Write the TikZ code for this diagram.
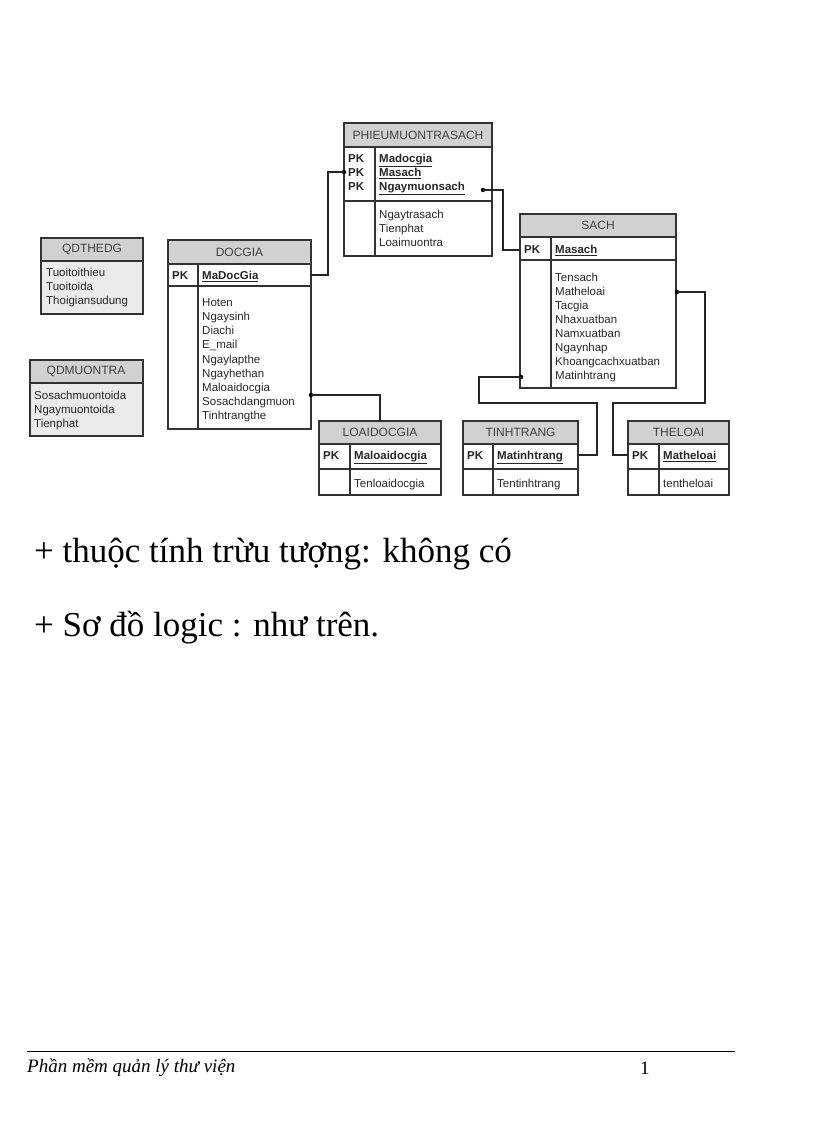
\documentclass[tikz,border=0pt]{standalone}
\usepackage{fontspec}
\setmainfont{Liberation Serif}
\newfontfamily\arialf{Liberation Sans}
\begin{document}
\begin{tikzpicture}[x=1pt,y=-1pt,
  frame/.style={draw=black!80,line width=1.1pt},
  hdr/.style={frame,fill=black!18},
  tt/.style={font=\arialf\fontsize{11.5}{13}\selectfont,anchor=base west,inner sep=0pt,text=black!85,yshift=-4.2pt},
  tb/.style={tt,font=\arialf\bfseries\fontsize{11.5}{13}\selectfont},
  th/.style={font=\arialf\fontsize{12}{13}\selectfont,inner sep=0pt,text=black!75},
  conn/.style={draw=black!85,line width=1.2pt},
  dot/.style={circle,fill=black,inner sep=0pt,minimum size=4.5pt}]
\useasboundingbox (0,0) rectangle (816,1123);
% QDTHEDG
\draw[hdr] (41,238) rectangle (143,261); \node[th] (qdt) at (92,249.5) {QDTHEDG};
\draw[frame,fill=black!8] (41,261) rectangle (143,314);
\node[tt] at (46,272) {Tuoitoithieu}; \node[tt] at (46,286) {Tuoitoida}; \node[tt] at (46,300) {Thoigiansudung};
% QDMUONTRA
\draw[hdr] (30,360) rectangle (143,383); \node[th] (qdm) at (86,371.5) {QDMUONTRA};
\draw[frame,fill=black!8] (30,383) rectangle (143,436);
\node[tt] at (34,395) {Sosachmuontoida}; \node[tt] at (34,409) {Ngaymuontoida}; \node[tt] at (34,423) {Tienphat};
% DOCGIA
\draw[hdr] (168,240) rectangle (311,264); \node[th] at (239.5,252) {DOCGIA};
\draw[frame] (168,264) rectangle (311,429); \draw[frame] (168,286) -- (311,286); \draw[frame] (198,264) -- (198,429);
\node[tb] at (172,275) {PK}; \node[tb] at (202,275) {\underline{MaDocGia}};
\foreach \t [count=\i from 0] in {Hoten,Ngaysinh,Diachi,E\_mail,Ngaylapthe,Ngayhethan,Maloaidocgia,Sosachdangmuon,Tinhtrangthe}
  \node[tt] at (202,302+14.2*\i) {\t};
\coordinate (dgpk) at (311,275); \coordinate (dgml) at (311,395);
% PHIEUMUONTRASACH
\draw[hdr] (344,123) rectangle (492,147); \node[th] at (418,135) {PHIEUMUONTRASACH};
\draw[frame] (344,147) rectangle (492,256); \draw[frame] (344,201) -- (492,201); \draw[frame] (375,147) -- (375,256);
\foreach \t [count=\i from 0] in {Madocgia,Masach,Ngaymuonsach}{
  \node[tb] at (348,158+14*\i) {PK}; \node[tb] at (379,158+14*\i) {\underline{\t}};}
\foreach \t [count=\i from 0] in {Ngaytrasach,Tienphat,Loaimuontra}
  \node[tt] at (379,214+14*\i) {\t};
\node[dot] (pms) at (344,172) {}; \node[dot] (pnm) at (483,190) {};
% SACH
\draw[hdr] (520,214) rectangle (676,237); \node[th] at (598,225.5) {SACH};
\draw[frame] (520,237) rectangle (676,388); \draw[frame] (520,260) -- (676,260); \draw[frame] (551,237) -- (551,388);
\node[tb] at (524,249) {PK}; \node[tb] at (555,249) {\underline{Masach}};
\foreach \t [count=\i from 0] in {Tensach,Matheloai,Tacgia,Nhaxuatban,Namxuatban,Ngaynhap,Khoangcachxuatban,Matinhtrang}
  \node[tt] at (555,277+14.1*\i) {\t};
\coordinate (spk) at (520,250);
\node[dot] (stt) at (521,377) {}; \node[dot] (stl) at (677,292) {};
% LOAIDOCGIA
\draw[hdr] (319,421) rectangle (441,444); \node[th] at (380,432.5) {LOAIDOCGIA};
\draw[frame] (319,444) rectangle (441,495); \draw[frame] (319,469) -- (441,469); \draw[frame] (350,444) -- (350,495);
\node[tb] at (323,455) {PK}; \node[tb] at (354,455) {\underline{Maloaidocgia}}; \node[tt] at (354,483) {Tenloaidocgia};
\coordinate (ldtop) at (380,421);
% TINHTRANG
\draw[hdr] (463,421) rectangle (578,444); \node[th] at (520.5,432.5) {TINHTRANG};
\draw[frame] (463,444) rectangle (578,495); \draw[frame] (463,469) -- (578,469); \draw[frame] (493,444) -- (493,495);
\node[tb] at (467,455) {PK}; \node[tb] at (497,455) {\underline{Matinhtrang}}; \node[tt] at (497,483) {Tentinhtrang};
\coordinate (ttr) at (578,455);
% THELOAI
\draw[hdr] (628,421) rectangle (729,444); \node[th] at (678.5,432.5) {THELOAI};
\draw[frame] (628,444) rectangle (729,495); \draw[frame] (628,469) -- (729,469); \draw[frame] (659,444) -- (659,495);
\node[tb] at (632,455) {PK}; \node[tb] at (663,455) {\underline{Matheloai}}; \node[tt] at (663,483) {tentheloai};
\coordinate (tll) at (628,455);
% connectors
\draw[conn] (dgpk) -- (328,275) -- (328,172) -- (pms.center);
\draw[conn] (pnm.center) -- (503,190) -- (503,250) -- (spk);
\node[dot] (dgd) at (dgml) {};
\draw[conn] (dgd.center) -- (380,395) -- (ldtop);
\draw[conn] (stt.center) -- (479,377) -- (479,403) -- (597,403) -- (597,455) -- (ttr);
\draw[conn] (stl.center) -- (705,292) -- (705,403) -- (613,403) -- (613,455) -- (tll);
% text
\node[anchor=west,inner sep=0pt,font=\fontsize{35}{38}\selectfont] (t1) at (34,554) {+ thuộc tính trừu tượng: không có};
\node[anchor=west,inner sep=0pt,font=\fontsize{35}{38}\selectfont] (t2) at (34,628) {+ Sơ đồ logic : như trên.};
\draw[line width=0.8pt] (27,1051) -- (735,1051);
\node[anchor=west,inner sep=0pt,font=\itshape\fontsize{19}{21}\selectfont] (ft) at (27,1068) {Phần mềm quản lý thư viện};
\node[anchor=west,inner sep=0pt,font=\fontsize{19}{21}\selectfont] (pg) at (640,1068) {1};
\end{tikzpicture}
\end{document}
